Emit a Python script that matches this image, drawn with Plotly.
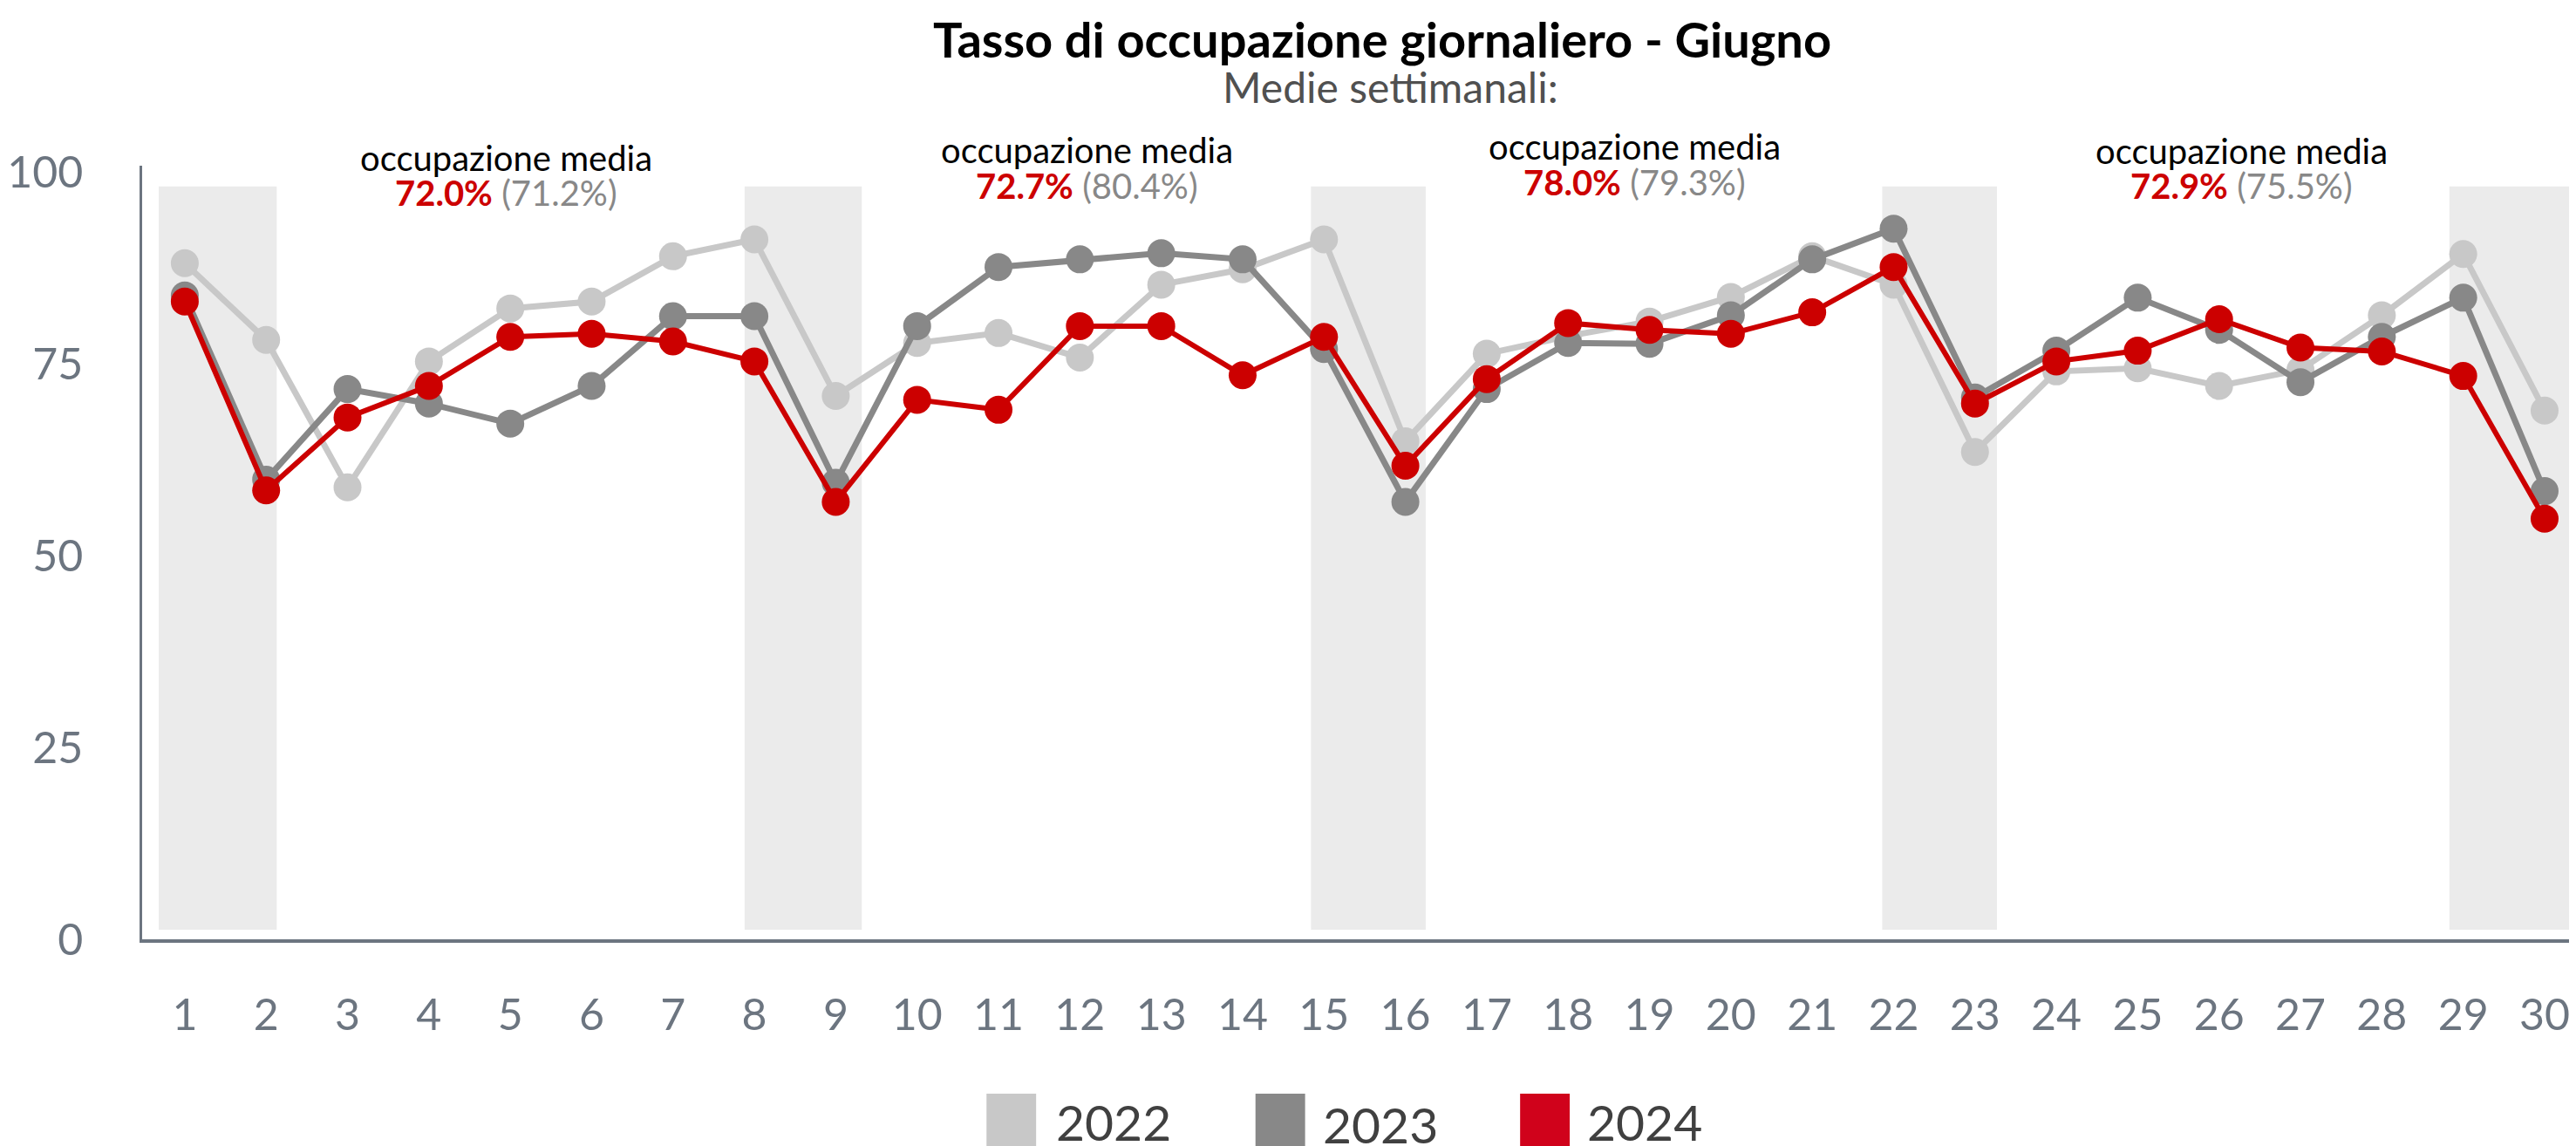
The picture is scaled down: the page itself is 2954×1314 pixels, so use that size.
import plotly.graph_objects as go

# ---------------- data ----------------
days = list(range(1, 31))
occ_2022 = [88.1, 78.1, 58.9, 75.3, 82.2, 83.1, 89.0, 91.2, 70.8, 77.7,
            79.0, 75.8, 85.3, 87.3, 91.2, 64.9, 76.3, 78.6, 80.5, 83.7,
            89.0, 85.3, 63.5, 74.0, 74.4, 72.1, 74.2, 81.3, 89.3, 68.9]
occ_2023 = [83.9, 59.9, 71.7, 69.8, 67.2, 72.1, 81.2, 81.2, 59.5, 79.9,
            87.6, 88.6, 89.4, 88.6, 76.9, 57.0, 71.7, 77.7, 77.6, 81.3,
            88.6, 92.6, 70.6, 76.7, 83.6, 79.4, 72.6, 78.5, 83.6, 58.4]
occ_2024 = [83.1, 58.5, 68.0, 72.1, 78.5, 78.9, 77.9, 75.3, 57.0, 70.3,
            69.0, 79.9, 79.9, 73.5, 78.5, 61.7, 73.0, 80.3, 79.4, 78.9,
            81.7, 87.6, 69.8, 75.3, 76.7, 80.8, 77.1, 76.6, 73.4, 54.8]
years = ["2022", "2023", "2024"]
week_avg_2024 = ["72.0%", "72.7%", "78.0%", "72.9%"]
week_avg_2023 = ["(71.2%)", "(80.4%)", "(79.3%)", "(75.5%)"]
weekend_bands = [(0.68, 2.13), (7.88, 9.32), (14.84, 16.25), (21.86, 23.27), (28.83, 30.6)]
y_ticks = [0, 25, 50, 75, 100]

title_text = "Tasso di occupazione giornaliero - Giugno"
subtitle_text = "Medie settimanali:"
label_text = "occupazione media"

# ---------------- styles ----------------
colors = {"2022": "#c8c8c8", "2023": "#888888", "2024": "#cc0000"}
swatch_colors = {"2022": "#c8c8c8", "2023": "#888888", "2024": "#d0021b"}
widths = {"2022": 7, "2023": 7, "2024": 6}
FONT = "Lato, 'Open Sans', sans-serif"
TICK_COLOR = "#6c7580"

OFF = 8  # default page body margin
W, H = 2954 - OFF, 1314 - OFF
L, R, T, B = 158 - OFF, 0, 190 - OFF, 237
PW, PH = W - L - R, H - T - B


def px(X):
    # page pixel -> paper x
    return (X - OFF - L) / PW


def py(Y):
    # page pixel -> paper y
    return (H - B - (Y - OFF)) / PH


fig = go.Figure()

series = {"2022": occ_2022, "2023": occ_2023, "2024": occ_2024}
for yr in years:
    fig.add_trace(go.Scatter(
        x=days, y=series[yr], mode="lines+markers", name=yr,
        line=dict(color=colors[yr], width=widths[yr]),
        marker=dict(color=colors[yr], size=32),
        showlegend=False,
    ))

shapes = []
for x0, x1 in weekend_bands:
    shapes.append(dict(type="rect", xref="x", yref="y", x0=x0, x1=x1, y0=1.25, y1=98.1,
                       fillcolor="#ebebeb", line=dict(width=0), layer="below"))

annotations = []
annotations.append(dict(text=f"<b>{title_text}</b>", xref="paper", yref="paper",
                        x=px(1583), y=py(44.7), xanchor="center", yanchor="middle",
                        showarrow=False, font=dict(family=FONT, size=56, color="#000000")))
annotations.append(dict(text=subtitle_text, xref="paper", yref="paper",
                        x=px(1592), y=py(99.8), xanchor="center", yanchor="middle",
                        showarrow=False, font=dict(family=FONT, size=48, color="#505050")))

week_x = [4.95, 12.09, 18.82, 26.28]
line1_y = [181.4, 172.4, 168.4, 173.4]
line2_y = [221.4, 213.4, 209.4, 213.4]
for i in range(4):
    annotations.append(dict(text=label_text, xref="x", yref="paper",
                            x=week_x[i], y=py(line1_y[i]), xanchor="center", yanchor="middle",
                            showarrow=False, font=dict(family=FONT, size=40, color="#000000")))
    annotations.append(dict(
        text=f"<b><span style='color:#cc0000'>{week_avg_2024[i]}</span></b> "
             f"<span style='color:#888888'>{week_avg_2023[i]}</span>",
        xref="x", yref="paper", x=week_x[i], y=py(line2_y[i]),
        xanchor="center", yanchor="middle", showarrow=False,
        font=dict(family=FONT, size=40, color="#888888")))

# manual legend
sw_x = [1128, 1437, 1741]
txt_x = [1206, 1512, 1816]
txt_y = [1286, 1289, 1286]
for i, yr in enumerate(years):
    shapes.append(dict(type="rect", xref="paper", yref="paper",
                       x0=px(sw_x[i]), x1=px(sw_x[i] + 57), y0=py(1254), y1=py(1330),
                       fillcolor=swatch_colors[yr], line=dict(width=0)))
    annotations.append(dict(text=yr, xref="paper", yref="paper",
                            x=px(txt_x[i]), y=py(txt_y[i]), xanchor="left", yanchor="middle",
                            showarrow=False, font=dict(family=FONT, size=57, color="#404040")))

fig.update_layout(
    width=W, height=H,
    margin=dict(l=L, r=R, t=T, b=B, pad=0),
    paper_bgcolor="white", plot_bgcolor="white",
    font=dict(family=FONT),
    shapes=shapes, annotations=annotations,
    xaxis=dict(range=[0.476, 30.386], tickmode="array", tickvals=days,
               ticktext=[str(d) for d in days], showgrid=False, zeroline=False,
               showline=True, linecolor=TICK_COLOR, linewidth=4, ticks="",
               tickfont=dict(family=FONT, size=50, color=TICK_COLOR),
               ticklabelstandoff=40),
    yaxis=dict(range=[0, 100.8], tickmode="array", tickvals=y_ticks,
               ticktext=[str(v) for v in y_ticks], showgrid=False, zeroline=False,
               showline=True, linecolor=TICK_COLOR, linewidth=2.5, ticks="",
               tickfont=dict(family=FONT, size=50, color=TICK_COLOR),
               ticklabelstandoff=55),
)

fig.write_html("out.html")
